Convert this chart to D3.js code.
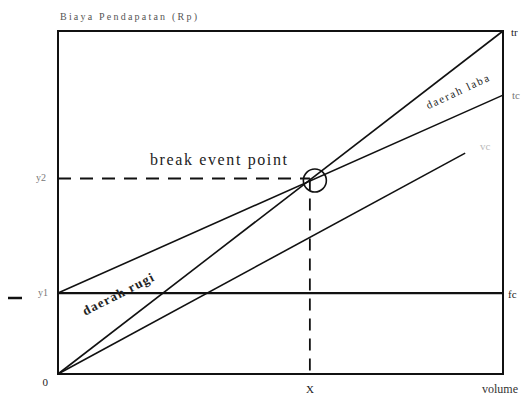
<!DOCTYPE html>
<html>
<head>
<meta charset="utf-8">
<script src="https://cdn.jsdelivr.net/npm/d3@7"></script>
<style>
  body { margin: 0; background: #fff; }
</style>
</head>
<body>
<script>
// break even chart
var svgWidth = 530;
var svgHeight = 395;

var margin = { top: 31, right: 27, bottom: 21, left: 58 };
var chartWidth = svgWidth - margin.left - margin.right;
var chartHeight = svgHeight - margin.top - margin.bottom;

// data (volume in %, rupiah in % of axis)
var volume = [0, 100];
var revenue = [0, 100];          // tr
var totalCost = [23.6, 81.3];    // tc
var varVolume = [0, 91.5];
var varCost = [0, 64.4];         // vc
var fixedCost = 23.6;            // fc
var bepVolume = 56.6;
var bepValue = 57.0;
var lineNames = ["tr", "tc", "vc", "fc"];

var svg = d3.select("body")
  .append("svg")
  .attr("width", svgWidth)
  .attr("height", svgHeight)
  .attr("font-family", "'Liberation Serif', 'Times New Roman', serif");

var xScale = d3.scaleLinear().domain([0, 100]).range([margin.left, margin.left + chartWidth]);
var yScale = d3.scaleLinear().domain([0, 100]).range([margin.top + chartHeight, margin.top]);

var line = d3.line().x(d => xScale(d[0])).y(d => yScale(d[1]));

// dashed guides to the break even point
svg.append("path")
  .attr("d", line([[0, bepValue], [bepVolume, bepValue]]))
  .attr("stroke", "#111").attr("stroke-width", 1.8)
  .attr("stroke-dasharray", "13,9").attr("fill", "none");
svg.append("path")
  .attr("d", line([[bepVolume, bepValue], [bepVolume, 0]]))
  .attr("stroke", "#111").attr("stroke-width", 1.8)
  .attr("stroke-dasharray", "12,8").attr("fill", "none");

// frame
svg.append("rect")
  .attr("x", xScale(0)).attr("y", yScale(100))
  .attr("width", xScale(100) - xScale(0))
  .attr("height", yScale(0) - yScale(100))
  .attr("fill", "none").attr("stroke", "#111").attr("stroke-width", 2);

// the four lines
var series = [
  [[volume[0], revenue[0]], [volume[1], revenue[1]]],
  [[volume[0], totalCost[0]], [volume[1], totalCost[1]]],
  [[varVolume[0], varCost[0]], [varVolume[1], varCost[1]]],
  [[volume[0], fixedCost], [volume[1], fixedCost]]
];
svg.selectAll(".cost")
  .data(series)
  .enter()
    .append("path")
    .attr("d", d => line(d))
    .attr("stroke", "#111")
    .attr("stroke-width", (d, i) => i == 3 ? 2.2 : 1.6)
    .attr("fill", "none");

// circle on the bep
svg.append("circle")
  .attr("cx", xScale(bepVolume) + 5)
  .attr("cy", yScale(bepValue) + 2)
  .attr("r", 11.5)
  .attr("fill", "none").attr("stroke", "#111").attr("stroke-width", 1.6);

// line names at the right
var nameAttr = [
  { x: 511, y: 36, fill: "#222" },
  { x: 512, y: 99, fill: "#777" },
  { x: 480, y: 150, fill: "#bbb" },
  { x: 508, y: 298, fill: "#222" }
];
lineNames.forEach(function(d, i) {
  svg.append("text")
    .attr("x", nameAttr[i].x).attr("y", nameAttr[i].y)
    .attr("fill", nameAttr[i].fill)
    .attr("font-size", "11px")
    .text(d);
});

// axis labels
svg.append("text").attr("x", 60).attr("y", 20).attr("font-size", "10px")
  .attr("fill", "#555").attr("textLength", 137).text("Biaya Pendapatan (Rp)");
svg.append("text").attr("x", 48).attr("y", 386).attr("font-size", "11px")
  .attr("fill", "#222").attr("text-anchor", "end").text("0");
svg.append("text").attr("x", xScale(bepVolume)).attr("y", 393).attr("font-size", "11px")
  .attr("fill", "#222").attr("text-anchor", "middle").text("X");
svg.append("text").attr("x", 482).attr("y", 393).attr("font-size", "12px")
  .attr("fill", "#333").text("volume");
svg.append("text").attr("x", 46).attr("y", yScale(bepValue) + 3).attr("font-size", "10px")
  .attr("fill", "#777").attr("text-anchor", "end").text("y2");
svg.append("text").attr("x", 48).attr("y", yScale(fixedCost) + 3).attr("font-size", "10px")
  .attr("fill", "#777").attr("text-anchor", "end").text("y1");
svg.append("line")
  .attr("x1", 8).attr("x2", 22).attr("y1", 298).attr("y2", 298)
  .attr("stroke", "#111").attr("stroke-width", 2.5);

// notes
svg.append("text").attr("x", 150).attr("y", 165).attr("font-size", "16px")
  .attr("fill", "#222").attr("textLength", 137).text("break event point");
svg.append("text")
  .attr("transform", "translate(459,95) rotate(-25)")
  .attr("text-anchor", "middle").attr("font-size", "11px")
  .attr("textLength", 68)
  .attr("fill", "#222").text("daerah laba");
svg.append("text")
  .attr("transform", "translate(120,298) rotate(-27)")
  .attr("text-anchor", "middle").attr("font-size", "13px").attr("font-weight", "bold")
  .attr("textLength", 78)
  .attr("fill", "#222").text("daerah rugi");
</script>
</body>
</html>
